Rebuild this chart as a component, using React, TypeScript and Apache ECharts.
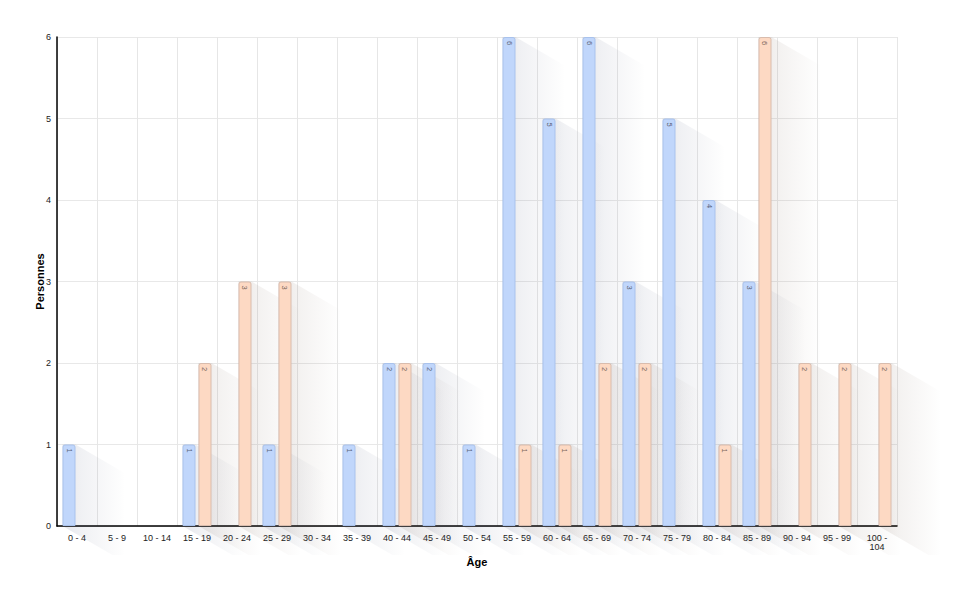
import React, { useEffect, useRef } from 'react';
import * as echarts from 'echarts';

const ageGroups = [
    '0 - 4', '5 - 9', '10 - 14', '15 - 19', '20 - 24', '25 - 29', '30 - 34',
    '35 - 39', '40 - 44', '45 - 49', '50 - 54', '55 - 59', '60 - 64', '65 - 69',
    '70 - 74', '75 - 79', '80 - 84', '85 - 89', '90 - 94', '95 - 99', '100 - 104'
];
const hommes = [1, 0, 0, 1, 0, 1, 0, 1, 2, 2, 1, 6, 5, 6, 3, 5, 4, 3, 0, 0, 0];
const femmes = [0, 0, 0, 2, 3, 3, 0, 0, 2, 0, 0, 1, 1, 2, 2, 0, 1, 6, 2, 2, 2];
const yTicks = [0, 1, 2, 3, 4, 5, 6];

const FONT = '"Liberation Sans", Arial, Helvetica, sans-serif';
const CAT_GAP = 0.275;
const BAR_GAP = 0.23;
const SHADOW_DX = 50;
const SHADOW_DY = 29;

// diagonal cast shadow behind each bar
const shadowSeries = (values: number[], side: number, rgb: string) => ({
    type: 'custom',
    z: 1,
    clip: false,
    silent: true,
    data: values.map((v, i) => [i, v]).filter(d => d[1] > 0),
    renderItem: (params: any, api: any) => {
        const idx = api.value(0);
        const val = api.value(1);
        const [cx, top] = api.coord([idx, val]);
        const base = api.coord([idx, 0])[1];
        const band = api.size([1, 0])[0];
        const barW = (band * (1 - CAT_GAP)) / (2 + BAR_GAP);
        const center = cx + side * (barW * (1 + BAR_GAP)) / 2;
        const xl = center - barW / 2;
        const xr = center + barW / 2;
        return {
            type: 'polygon',
            shape: {
                points: [
                    [xl, top], [xr, top], [xr + SHADOW_DX, top + SHADOW_DY],
                    [xr + SHADOW_DX, base + SHADOW_DY], [xl + SHADOW_DX, base + SHADOW_DY], [xl, base]
                ]
            },
            style: {
                fill: new echarts.graphic.LinearGradient(0, 0, 1, 0, [
                    { offset: 0, color: `rgba(${rgb},0.14)` },
                    { offset: 0.3, color: `rgba(${rgb},0.08)` },
                    { offset: 1, color: `rgba(${rgb},0)` }
                ])
            }
        };
    }
});

const barSeries = (name: string, values: number[], color: string, border: string, labelColor: string) => ({
    name,
    type: 'bar',
    z: 2,
    barCategoryGap: `${CAT_GAP * 100}%`,
    barGap: `${BAR_GAP * 100}%`,
    data: values.map(v => (v > 0 ? v : null)),
    itemStyle: { color, borderColor: border, borderWidth: 1, borderRadius: [2, 2, 0, 0] },
    label: {
        show: true,
        position: 'insideTop',
        distance: 4,
        rotate: -90,
        align: 'left',
        verticalAlign: 'middle',
        fontSize: 7.5,
        fontFamily: FONT,
        color: labelColor
    }
});

export default function App() {
    const chartRef = useRef<HTMLDivElement>(null);

    useEffect(() => {
        document.body.style.margin = '0';
        if (!chartRef.current) return;
        const chart = echarts.init(chartRef.current, undefined, { renderer: 'svg' });

        chart.setOption({
            animation: false,
            backgroundColor: '#fff',
            textStyle: { fontFamily: FONT },
            grid: { left: 57, right: 68, top: 37, bottom: 75 },
            xAxis: {
                type: 'category',
                data: ageGroups,
                name: 'Âge',
                nameLocation: 'middle',
                nameGap: 30,
                nameMoveOverlap: false,
                nameTextStyle: { fontWeight: 'bold', fontSize: 11, color: '#000', fontFamily: FONT },
                axisLine: { lineStyle: { color: '#000', width: 1.5 } },
                axisTick: { show: false },
                axisLabel: {
                    interval: 0,
                    margin: 7,
                    fontSize: 9,
                    color: '#222',
                    fontFamily: FONT,
                    formatter: (v: string) => (v.length > 7 ? v.replace(' - ', ' -\n') : v)
                },
                splitLine: { show: true, lineStyle: { color: '#e6e6e6', width: 1 } }
            },
            yAxis: {
                type: 'value',
                min: yTicks[0],
                max: yTicks[yTicks.length - 1],
                interval: 1,
                name: 'Personnes',
                nameLocation: 'middle',
                nameGap: 12,
                nameMoveOverlap: false,
                nameTextStyle: { fontWeight: 'bold', fontSize: 11, color: '#000', fontFamily: FONT },
                axisLine: { show: true, lineStyle: { color: '#000', width: 1.5 } },
                axisTick: { show: false },
                axisLabel: { margin: 6, fontSize: 9, color: '#222', fontFamily: FONT },
                splitLine: { lineStyle: { color: '#e8e8e8', width: 1 } }
            },
            series: [
                shadowSeries(hommes, -1, '70,80,115'),
                shadowSeries(femmes, 1, '110,85,70'),
                barSeries('Hommes', hommes, '#c0d6fb', '#a9c2ec', '#5a6478'),
                barSeries('Femmes', femmes, '#fdd9c3', '#d9bcad', '#7a665c')
            ]
        });

        const handleResize = () => chart.resize();
        window.addEventListener('resize', handleResize);
        return () => {
            window.removeEventListener('resize', handleResize);
            chart.dispose();
        };
    }, []);

    return <div ref={chartRef} style={{ width: 965, height: 601 }} />;
}
